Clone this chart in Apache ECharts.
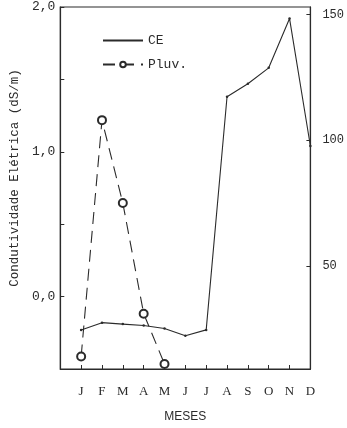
<!DOCTYPE html>
<html>
<head>
<meta charset="utf-8">
<script src="https://cdn.jsdelivr.net/npm/echarts@6/dist/echarts.min.js"></script>
<style>
  html, body { margin: 0; padding: 0; background: #fff; }
  #chart { width: 347px; height: 428px; }
</style>
</head>
<body>
<div id="chart"></div>
<script>
// meses (eixo x)
const months = ["J", "F", "M", "A", "M", "J", "J", "A", "S", "O", "N", "D"];
// condutividade elétrica (dS/m), eixo esquerdo
const ceValues = [-0.23, -0.18, -0.19, -0.20, -0.22, -0.27, -0.23, 1.38, 1.47, 1.58, 1.92, 1.04];
// pluviosidade, eixo direito (só jan-mai)
const pluvValues = [14, 108, 75, 31, 11];
const leftTicks = [0, 0.5, 1, 1.5, 2];
const leftLabels = [0, 1, 2];
const rightLabels = [50, 100, 150];

const ink = "#2b2b2b";
const mono = "'Liberation Mono', 'DejaVu Sans Mono', monospace";

const chart = echarts.init(document.getElementById("chart"));

const option = {
  backgroundColor: "#fff",
  animation: false,
  grid: {
    left: 56,
    right: 34,
    top: 7,
    bottom: 55,
    show: true,
    borderColor: ink,
    borderWidth: 1.2,
  },
  legend: {
    orient: "vertical",
    left: 97,
    top: 29,
    itemWidth: 40,
    itemHeight: 7,
    itemGap: 11,
    data: [
      { name: "CE", itemStyle: { opacity: 0 } },
      { name: "Pluv." },
    ],
    textStyle: { fontFamily: mono, fontSize: 13, color: ink },
  },
  xAxis: {
    type: "value",
    min: 0,
    max: 12,
    interval: 1,
    splitLine: { show: false },
    axisLine: { onZero: false, lineStyle: { color: ink, width: 1.2 } },
    axisTick: { inside: true, length: 4, lineStyle: { color: ink } },
    axisLabel: {
      margin: 16,
      color: ink,
      fontFamily: "'Liberation Serif', serif",
      fontSize: 13,
      formatter: (v) => (v >= 1 && v <= 12 ? months[v - 1] : ""),
    },
    name: "MESES",
    nameLocation: "middle",
    nameGap: 42,
    nameTextStyle: { fontFamily: "'Liberation Sans Narrow', 'Liberation Sans', sans-serif", fontSize: 12, color: ink },
  },
  yAxis: [
    {
      type: "value",
      min: -0.5,
      max: 2.0,
      splitLine: { show: false },
      axisLine: { show: true, onZero: false, lineStyle: { color: ink, width: 1.2 } },
      axisTick: { inside: true, length: 4, customValues: leftTicks, lineStyle: { color: ink } },
      axisLabel: {
        customValues: leftLabels,
        margin: 5,
        color: ink,
        fontFamily: mono,
        fontSize: 13,
        formatter: (v) => v.toFixed(1).replace(".", ","),
      },
      name: "Condutividade Elétrica (dS/m)",
      nameLocation: "middle",
      nameGap: 30,
      nameTextStyle: { fontFamily: mono, fontSize: 12.5, color: ink, padding: [0, 0, 0, 20] },
    },
    {
      type: "value",
      min: 9,
      max: 153,
      position: "right",
      splitLine: { show: false },
      axisLine: { show: true, onZero: false, lineStyle: { color: ink, width: 1.2 } },
      axisTick: { inside: true, length: 4, customValues: rightLabels, lineStyle: { color: ink } },
      axisLabel: {
        customValues: rightLabels,
        margin: 12,
        color: ink,
        fontFamily: mono,
        fontSize: 12,
      },
    },
  ],
  series: [
    {
      name: "CE",
      type: "line",
      yAxisIndex: 0,
      data: ceValues.map((v, i) => [i + 1, v]),
      symbol: "circle",
      symbolSize: 2.5,
      itemStyle: { color: ink },
      lineStyle: { color: ink, width: 1.1 },
    },
    {
      name: "Pluv.",
      type: "line",
      yAxisIndex: 1,
      data: pluvValues.map((v, i) => [i + 1, v]),
      symbol: "emptyCircle",
      symbolSize: 8,
      itemStyle: { color: ink, borderWidth: 1.1 },
      lineStyle: { color: ink, width: 1.1, type: [12, 7] },
    },
  ],
};

chart.setOption(option);
</script>
</body>
</html>
